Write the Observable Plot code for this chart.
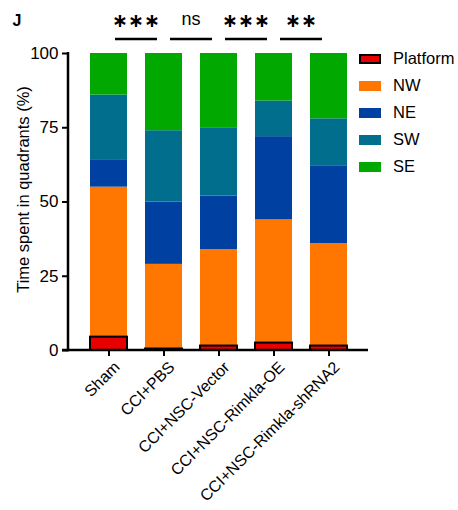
<!DOCTYPE html>
<html><head><meta charset="utf-8">
<script src="https://cdn.jsdelivr.net/npm/d3@7"></script>
<script src="https://cdn.jsdelivr.net/npm/@observablehq/plot@0.6"></script>
<style>
body{margin:0;background:#fff;font-family:"Liberation Sans",Arial,sans-serif;}
#wrap{position:relative;width:458px;height:510px;}
#legend{position:absolute;left:359px;top:45px;}
.item{display:flex;align-items:center;height:27px;font-size:16.5px;color:#000;}
.sw{width:22px;height:10px;margin-right:12px;box-sizing:border-box;}
</style></head><body><div id="wrap"><div id="legend"></div></div>
<script>
const groups = ["Sham","CCI+PBS","CCI+NSC-Vector","CCI+NSC-Rimkla-OE","CCI+NSC-Rimkla-shRNA2"];
const quadrants = ["Platform","NW","NE","SW","SE"];
const platform = [4.5, 0.5, 1.5, 2.5, 1.5];
const nw = [50.5, 28.5, 32.5, 41.5, 34.5];
const ne = [9, 21, 18, 28, 26];
const sw = [22, 24, 23, 12, 16];
const se = [14, 26, 25, 16, 22];
const colors = ["#e80000", "#ff7700", "#0040a0", "#006e8c", "#00a800"];
const yTicks = [0, 25, 50, 75, 100];
const sigPairs = [[0, 1], [1, 2], [2, 3], [3, 4]];
const sigLabels = ["***", "ns", "***", "**"];
const yLabel = "Time spent in quadrants (%)";
const panel = "J";

const series = [platform, nw, ne, sw, se];
const rows = [];
groups.forEach((g, i) => quadrants.forEach((q, j) => rows.push({group: g, quadrant: q, value: series[j][i]})));
const platRows = rows.filter(d => d.quadrant === "Platform");

const W = 458, H = 510, ML = 68, MR = 90, MT = 53, MB = 160;
const plot = Plot.plot({
  width: W, height: H,
  marginLeft: ML, marginRight: MR, marginTop: MT, marginBottom: MB,
  style: {fontFamily: '"Liberation Sans", Arial, sans-serif', fontSize: "16px", color: "#000", background: "transparent", overflow: "visible"},
  x: {domain: groups, paddingInner: 0.33, paddingOuter: 0.344, label: null},
  y: {domain: [0, 100], label: null},
  color: {domain: quadrants, range: colors},
  marks: [
    Plot.barY(rows, {x: "group", y: "value", fill: "quadrant", order: quadrants}),
    Plot.barY(platRows, {x: "group", y: "value", fill: colors[0], stroke: "#000", strokeWidth: 2}),
    Plot.axisY({ticks: yTicks, tickSize: 6, tickPadding: 4, fontSize: 17, strokeWidth: 2, label: null}),
    Plot.axisX({tickSize: 6, strokeWidth: 2, text: null, label: null}),
    Plot.axisX({tickSize: 0, tickPadding: 10, tickRotate: -45, fontSize: 16, dx: 8, dy: 4, label: null})
  ]
});
document.getElementById("wrap").appendChild(plot);
plot.style.position = "absolute"; plot.style.left = "0"; plot.style.top = "0";

const xs = plot.scale("x"), ys = plot.scale("y");
const bw = xs.bandwidth;
const cx = g => xs.apply(g) + bw / 2;
const svg = d3.select(plot);
const g = svg.append("g");
// axis lines
g.append("line").attr("x1", ML).attr("x2", ML).attr("y1", ys.apply(100) - 1).attr("y2", ys.apply(0) + 1.2)
  .attr("stroke", "#000").attr("stroke-width", 2.5);
g.append("line").attr("x1", ML - 6).attr("x2", W - MR).attr("y1", ys.apply(0)).attr("y2", ys.apply(0))
  .attr("stroke", "#000").attr("stroke-width", 2.5);
// y label
g.append("text").attr("transform", `translate(23,${(ys.apply(0) + ys.apply(100)) / 2 - 12}) rotate(-90)`)
  .attr("text-anchor", "middle").attr("dominant-baseline", "central").attr("font-size", 16.5).text(yLabel);
// panel letter
g.append("text").attr("x", 17).attr("y", 26).attr("font-size", 16).attr("font-weight", "bold").text(panel);
// significance
sigPairs.forEach(([a, b], i) => {
  const m = (cx(groups[a]) + cx(groups[b])) / 2;
  g.append("line").attr("x1", m - 21).attr("x2", m + 21).attr("y1", 39).attr("y2", 39).attr("stroke", "#000").attr("stroke-width", 2.5);
  const isStar = sigLabels[i].startsWith("*");
  g.append("text").attr("x", m).attr("y", isStar ? 20 : 25).attr("text-anchor", "middle")
    .attr("dominant-baseline", isStar ? "central" : "auto")
    .attr("font-size", isStar ? 19 : 18).attr("font-weight", isStar ? "bold" : "normal")
    .attr("font-family", isStar ? '"DejaVu Sans", sans-serif' : '"Liberation Sans", Arial, sans-serif')
    .text(isStar ? sigLabels[i].replace(/\*/g, "\u2217") : sigLabels[i]);
});
// legend
const leg = document.getElementById("legend");
quadrants.forEach((q, i) => {
  const it = document.createElement("div"); it.className = "item";
  const s = document.createElement("div"); s.className = "sw"; s.style.background = colors[i];
  if (i === 0) s.style.border = "2px solid #000";
  const t = document.createElement("span"); t.textContent = q;
  it.appendChild(s); it.appendChild(t); leg.appendChild(it);
});
</script></body></html>
